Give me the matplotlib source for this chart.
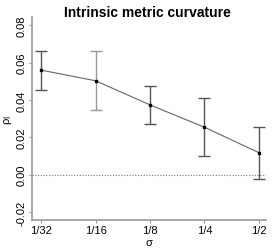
import matplotlib
matplotlib.use("Agg")
import matplotlib.pyplot as plt

# values
sigma_labels = ["1/32", "1/16", "1/8", "1/4", "1/2"]
rho = [0.0560, 0.0503, 0.0374, 0.0254, 0.0118]
rho_hi = [0.0664, 0.0662, 0.0476, 0.0410, 0.0256]
rho_lo = [0.0456, 0.0344, 0.0272, 0.0100, -0.0021]
bar_colors = ["#555555", "#999999", "#555555", "#555555", "#555555"]
yticks = [-0.02, 0.00, 0.02, 0.04, 0.06, 0.08]

plt.rcParams['font.family'] = ['Liberation Sans', 'DejaVu Sans']

fig = plt.figure(figsize=(2.79, 2.53), dpi=100)
ax = fig.add_axes([0.115, 0.127, 0.838, 0.80])

x = list(range(1, len(sigma_labels) + 1))
ax.axhline(0, color="#777777", lw=0.8, ls=(0, (1, 1.5)))
ax.plot(x, rho, color="#666666", lw=0.8, zorder=2)
for xi, r, lo, hi, c in zip(x, rho, rho_lo, rho_hi, bar_colors):
    ax.errorbar([xi], [r], yerr=[[r - lo], [hi - r]], fmt="none",
                ecolor=c, elinewidth=1.0, capsize=4, capthick=1.0, zorder=3)
ax.plot(x, rho, ls="none", marker="s", ms=1.6, color="black", zorder=4)

ax.set_xlim(0.834, 5.129)
ax.set_ylim(-0.0242, 0.0842)
ax.set_xticks(x)
ax.set_xticklabels(sigma_labels, fontsize=8)
ax.set_yticks(yticks)
ax.set_yticklabels(["%.2f" % v for v in yticks], fontsize=8, rotation=90, va="center")
ax.tick_params(length=2.5, width=0.8, color="#999999", pad=1.5)

for s in ["top", "right"]:
    ax.spines[s].set_visible(False)
for s in ["left", "bottom"]:
    ax.spines[s].set_color("#999999")
    ax.spines[s].set_linewidth(1.2)

ax.set_xlabel("σ", fontsize=8, labelpad=1)
ax.set_ylabel("ρ$_\\mathrm{I}$", fontsize=8, labelpad=2)
fig.text(0.53, 0.975, "Intrinsic metric curvature", ha="center", va="top",
         fontsize=10, fontweight="bold")

fig.savefig("out.png", dpi=100)
